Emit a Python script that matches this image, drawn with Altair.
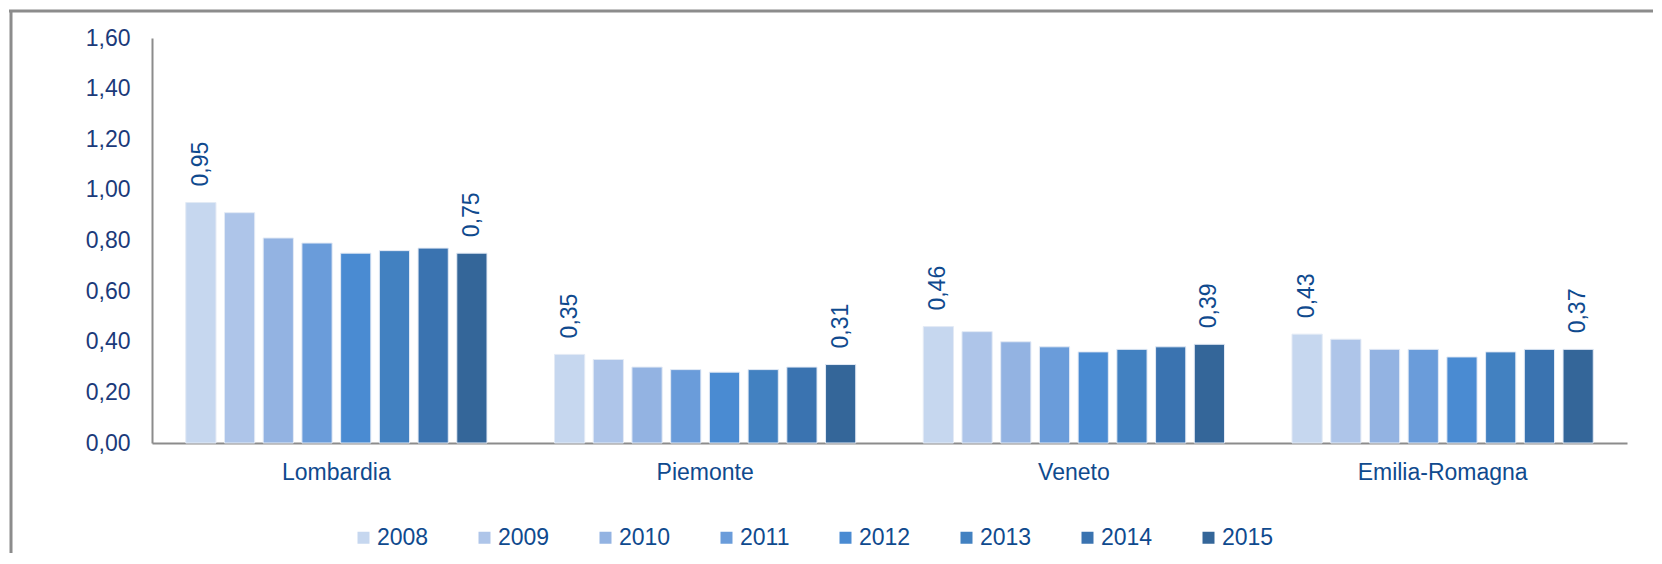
import altair as alt
import pandas as pd

regions = ["Lombardia", "Piemonte", "Veneto", "Emilia-Romagna"]
years = ["2008", "2009", "2010", "2011", "2012", "2013", "2014", "2015"]
lombardia = [0.95, 0.91, 0.81, 0.79, 0.75, 0.76, 0.77, 0.75]
piemonte = [0.35, 0.33, 0.30, 0.29, 0.28, 0.29, 0.30, 0.31]
veneto = [0.46, 0.44, 0.40, 0.38, 0.36, 0.37, 0.38, 0.39]
emilia = [0.43, 0.41, 0.37, 0.37, 0.34, 0.36, 0.37, 0.37]
colors = ["#C6D7EF", "#AEC5E9", "#93B3E2", "#6A9CDA", "#4A8BD2", "#4281C1", "#3A73B0", "#346699"]
y_ticks = [0.0, 0.2, 0.4, 0.6, 0.8, 1.0, 1.2, 1.4, 1.6]

rows = []
for reg, vals in zip(regions, [lombardia, piemonte, veneto, emilia]):
    for yr, v in zip(years, vals):
        rows.append({"region": reg, "year": yr, "value": v})
df = pd.DataFrame(rows)

FONT = "Liberation Sans, Arial, sans-serif"
TICK_COLOR = "#1B3A7A"
TEXT_COLOR = "#0F4A8E"
AXIS_GRAY = "#8C8C8C"

x_enc = alt.X("region:N", sort=regions, title=None,
              scale=alt.Scale(paddingInner=0.16, paddingOuter=0.08),
              axis=alt.Axis(labelAngle=0, labelFontSize=23, labelColor=TEXT_COLOR,
                            labelFont=FONT, ticks=False, labelPadding=18,
                            domainColor=AXIS_GRAY, domainWidth=2))
xoff = alt.XOffset("year:N", sort=years,
                   scale=alt.Scale(paddingInner=0.22, paddingOuter=0.11))
y_enc = alt.Y("value:Q", title=None,
              scale=alt.Scale(domain=[0, 1.6], nice=False),
              axis=alt.Axis(values=y_ticks, grid=False, ticks=False, labelFontSize=23,
                            labelColor=TICK_COLOR, labelFont=FONT, labelPadding=22,
                            domainColor=AXIS_GRAY, domainWidth=2,
                            labelExpr="replace(format(datum.value, '.2f'), '.', ',')"))

bars = alt.Chart(df).mark_bar(stroke="#E3EAF5", strokeWidth=1).encode(
    x=x_enc,
    xOffset=xoff,
    y=y_enc,
    color=alt.Color("year:N", sort=years,
                    scale=alt.Scale(domain=years, range=colors),
                    legend=alt.Legend(title=None, orient="none", direction="horizontal",
                                      legendX=200, legendY=488,
                                      symbolType="square", symbolSize=144,
                                      symbolStrokeWidth=0,
                                      labelFontSize=23, labelColor=TEXT_COLOR, labelFont=FONT,
                                      labelOffset=2, columnPadding=44)),
)

labels = alt.Chart(df).transform_filter(
    "datum.year == '2008' || datum.year == '2015'"
).transform_calculate(
    label="replace(format(datum.value, '.2f'), '.', ',')"
).mark_text(angle=270, align="left", baseline="middle", dx=16,
            fontSize=23, font=FONT, color=TEXT_COLOR).encode(
    x=alt.X("region:N", sort=regions),
    xOffset=alt.XOffset("year:N", sort=years),
    y=alt.Y("value:Q"),
    text="label:N",
)

frame = pd.DataFrame({"k": [0]})
border_top = alt.Chart(frame).mark_rule(stroke="#8C8C8C", strokeWidth=3).encode(
    x=alt.value(-143), x2=alt.value(1700), y=alt.value(-27)
)
border_left = alt.Chart(frame).mark_rule(stroke="#8C8C8C", strokeWidth=3).encode(
    x=alt.value(-141), y=alt.value(-28), y2=alt.value(700)
)

chart = alt.layer(border_top, border_left, bars, labels).properties(
    width=1475, height=405,
    padding={"left": 144, "top": 30, "right": 26, "bottom": 110},
    autosize=alt.AutoSizeParams(type="none"),
).configure(background="white").configure_view(stroke=None)

chart.save("out.html", embed_options={"renderer": "svg", "actions": False})
